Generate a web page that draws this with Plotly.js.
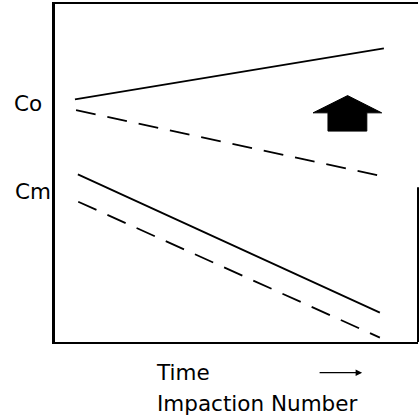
<!DOCTYPE html>
<html>
<head>
<meta charset="utf-8">
<script src="https://cdn.plot.ly/plotly-3.0.1.min.js"></script>
<style>
html,body{margin:0;padding:0;background:#fff;}
#chart{width:420px;height:416px;}
</style>
</head>
<body>
<div id="chart"></div>
<script>
// Series (schematic, arbitrary units)
var coSolidX = [0.55, 9.06];
var coSolidY = [7.18, 8.69];
var coDashX = [0.58, 8.95];
var coDashY = [6.86, 4.92];
var cmSolidX = [0.63, 8.95];
var cmSolidY = [4.96, 0.87];
var cmDashX = [0.64, 8.95];
var cmDashY = [4.15, 0.13];
// Upward block arrow
var arrowX = [8.06, 9.00, 8.59, 8.59, 7.52, 7.52, 7.11, 8.06];
var arrowY = [7.29, 6.78, 6.78, 6.24, 6.24, 6.78, 6.78, 7.29];
// Labels
var levelLabels = ["Co", "Cm"];
var levelPos = [0.707, 0.444];
var xLabels = ["Time", "Impaction Number"];

var FONT = {family: "DejaVu Sans", size: 21.5, color: "#000"};

function line(x, y, dash) {
  return {x: x, y: y, type: "scatter", mode: "lines",
    line: {color: "#000", width: 1.8, dash: dash}, hoverinfo: "skip", showlegend: false};
}

var traces = [
  line(coSolidX, coSolidY, "solid"),
  line(coDashX, coDashY, "20px,12px"),
  line(cmSolidX, cmSolidY, "solid"),
  line(cmDashX, cmDashY, "20px,12px"),
  {x: arrowX, y: arrowY, type: "scatter", mode: "lines", fill: "toself",
   fillcolor: "#000", line: {color: "#000", width: 1}, hoverinfo: "skip", showlegend: false}
];

var annotations = [];
var levelX = [-0.1185, -0.116];
for (var i = 0; i < levelLabels.length; i++) {
  annotations.push({text: levelLabels[i], xref: "paper", yref: "paper",
    x: levelX[i], y: levelPos[i], xanchor: "left", yanchor: "middle",
    showarrow: false, font: FONT});
}
annotations.push({text: xLabels[0], xref: "paper", yref: "paper",
  x: 0.274, y: -0.0917, xanchor: "left", yanchor: "middle", showarrow: false, font: FONT});
annotations.push({text: xLabels[1], xref: "paper", yref: "paper",
  x: 0.276, y: -0.181, xanchor: "left", yanchor: "middle", showarrow: false, font: FONT});
annotations.push({text: "", xref: "paper", yref: "paper",
  x: 0.846, y: -0.0908, ax: -44, ay: 0, showarrow: true,
  arrowhead: 2, arrowsize: 1, arrowwidth: 1.3, arrowcolor: "#000"});

var layout = {
  width: 420, height: 416,
  margin: {l: 55, r: 2, t: 4, b: 74},
  paper_bgcolor: "#fff", plot_bgcolor: "#fff",
  xaxis: {range: [0, 10], showgrid: false, zeroline: false, showticklabels: false,
    ticks: "", showline: true, mirror: true, linecolor: "#000", linewidth: 2},
  yaxis: {range: [0, 10], showgrid: false, zeroline: false, showticklabels: false,
    ticks: "", showline: true, linecolor: "#000", linewidth: 3},
  shapes: [{type: "line", xref: "paper", yref: "paper", x0: 1, x1: 1, y0: 0, y1: 0.458,
    line: {color: "#000", width: 2}}],
  annotations: annotations,
  showlegend: false
};

Plotly.newPlot("chart", traces, layout, {staticPlot: true, displayModeBar: false});
</script>
</body>
</html>
